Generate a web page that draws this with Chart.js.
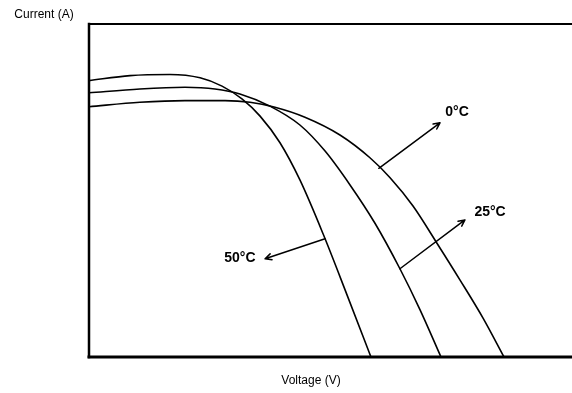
<!DOCTYPE html>
<html>
<head>
<meta charset="utf-8">
<script src="https://cdn.jsdelivr.net/npm/chart.js@4.4.1/dist/chart.umd.min.js"></script>
<style>
  html, body { margin: 0; padding: 0; background: #fff; overflow: hidden; }
  canvas { display: block; }
</style>
</head>
<body>
<canvas id="ivChart" width="572" height="393"></canvas>
<script>
// I-V curves of a PV cell at three temperatures (voltage in V, current in A)
const temps = ['50°C', '25°C', '0°C'];

const v50 = [0, 2.04, 4.02, 5.52, 6.61, 7.6, 8.5, 9.49, 10.48, 11.63, 12.82, 14.01];
const i50 = [4.98, 5.07, 5.09, 5.03, 4.88, 4.65, 4.34, 3.86, 3.19, 2.22, 1.12, 0];

const v25 = [0, 2.53, 4.77, 6.26, 7.5, 8.99, 10.48, 11.73, 12.97, 14.21, 15.45, 16.45, 17.49];
const i25 = [4.76, 4.83, 4.86, 4.83, 4.74, 4.52, 4.18, 3.71, 3.1, 2.41, 1.59, 0.85, 0];

const v0 = [0, 2.53, 4.77, 6.76, 8.0, 9.24, 10.73, 12.47, 13.96, 14.96, 16.1, 17.29, 18.43, 19.58, 20.62];
const i0 = [4.51, 4.59, 4.62, 4.62, 4.59, 4.5, 4.32, 4.0, 3.59, 3.23, 2.72, 2.05, 1.39, 0.7, 0];

// callouts: [label, tailV, tailI, headV, headI, labelV, labelI]
const callouts = [
  ['0°C', 14.4, 3.4, 17.44, 4.22, 18.29, 4.41],
  ['25°C', 15.45, 1.59, 18.68, 2.47, 19.93, 2.61],
  ['50°C', 11.73, 2.13, 8.75, 1.77, 7.5, 1.78]
];

const xMax = 24, yMax = 6;
const FONT = '"Liberation Sans", Arial, sans-serif';

function pts(vs, is) {
  return vs.map((v, k) => ({ x: v, y: is[k] }));
}

const series = [pts(v50, i50), pts(v25, i25), pts(v0, i0)];

// axes frame, titles and arrow callouts
const framePlugin = {
  id: 'frame',
  afterDatasetsDraw(chart) {
    const { ctx, chartArea: a, scales } = chart;
    ctx.save();
    ctx.strokeStyle = '#000';
    ctx.lineCap = 'square';
    // top
    ctx.lineWidth = 2;
    ctx.beginPath(); ctx.moveTo(a.left, a.top); ctx.lineTo(chart.width, a.top); ctx.stroke();
    // left
    ctx.lineWidth = 2.5;
    ctx.beginPath(); ctx.moveTo(a.left, a.top); ctx.lineTo(a.left, a.bottom); ctx.stroke();
    // bottom
    ctx.lineWidth = 3;
    ctx.beginPath(); ctx.moveTo(a.left, a.bottom); ctx.lineTo(chart.width, a.bottom); ctx.stroke();

    // axis titles
    ctx.fillStyle = '#000';
    ctx.font = '12px ' + FONT;
    ctx.textBaseline = 'middle';
    ctx.textAlign = 'center';
    ctx.fillText('Current (A)', 44, 15);
    ctx.fillText('Voltage (V)', 311, 381);

    // callouts
    ctx.lineWidth = 1.5;
    ctx.lineCap = 'round';
    ctx.lineJoin = 'round';
    ctx.font = 'bold 14px ' + FONT;
    callouts.forEach(c => {
      const x1 = scales.x.getPixelForValue(c[1]), y1 = scales.y.getPixelForValue(c[2]);
      const x2 = scales.x.getPixelForValue(c[3]), y2 = scales.y.getPixelForValue(c[4]);
      const ang = Math.atan2(y2 - y1, x2 - x1);
      const h = 7, spread = 0.45;
      ctx.beginPath();
      ctx.moveTo(x1, y1); ctx.lineTo(x2, y2);
      ctx.moveTo(x2 - h * Math.cos(ang - spread), y2 - h * Math.sin(ang - spread));
      ctx.lineTo(x2, y2);
      ctx.lineTo(x2 - h * Math.cos(ang + spread), y2 - h * Math.sin(ang + spread));
      ctx.stroke();
      ctx.fillText(c[0], scales.x.getPixelForValue(c[5]), scales.y.getPixelForValue(c[6]));
    });
    ctx.restore();
  }
};

new Chart(document.getElementById('ivChart'), {
  type: 'line',
  data: {
    datasets: series.map((d, k) => ({
      label: temps[k],
      data: d,
      borderColor: '#000',
      borderWidth: 1.6,
      pointRadius: 0,
      fill: false,
      cubicInterpolationMode: 'monotone'
    }))
  },
  options: {
    responsive: false,
    animation: false,
    layout: { padding: { left: 89, top: 24, right: 0, bottom: 36 } },
    plugins: { legend: { display: false }, tooltip: { enabled: false } },
    scales: {
      x: { type: 'linear', min: 0, max: xMax, display: false },
      y: { type: 'linear', min: 0, max: yMax, display: false }
    }
  },
  plugins: [framePlugin]
});
</script>
</body>
</html>
